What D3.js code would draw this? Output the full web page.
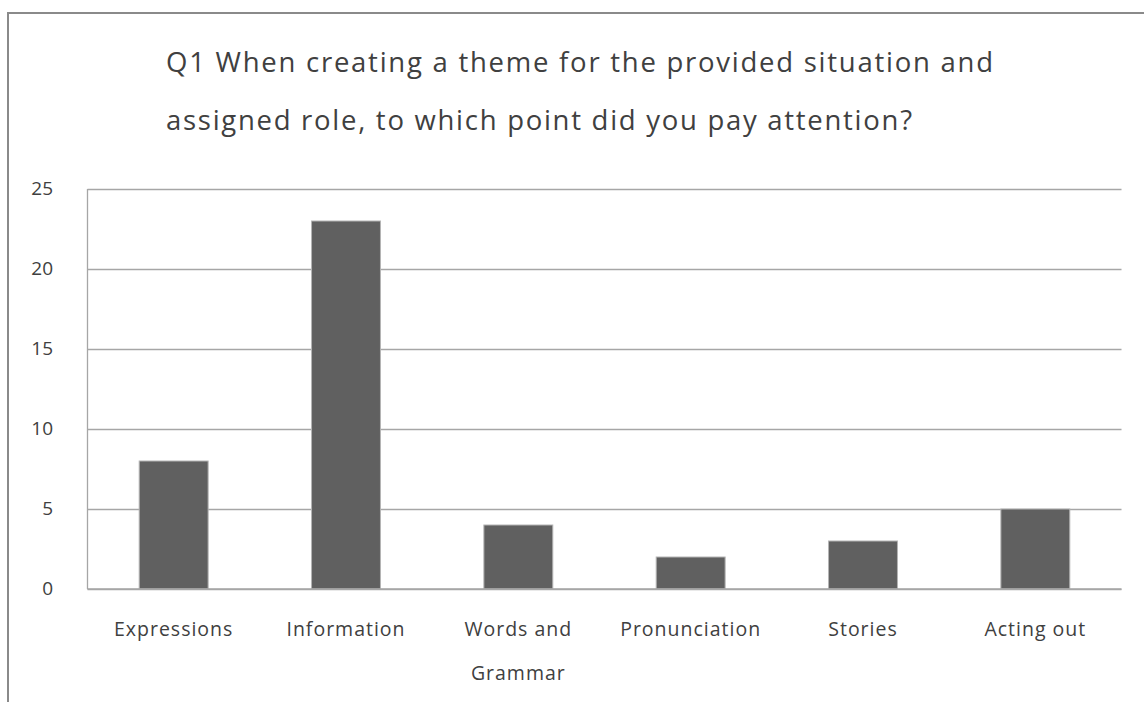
<!DOCTYPE html>
<html>
<head>
<meta charset="utf-8">
<script src="https://cdn.jsdelivr.net/npm/d3@7/dist/d3.min.js"></script>
<style>
  html, body { margin: 0; padding: 0; background: #fff; }
  svg { display: block; }
  text { font-family: "Open Sans", "Noto Sans", sans-serif; fill: #404040; }
</style>
</head>
<body>
<svg id="chart" width="1144" height="702"></svg>
<script>
// Survey answers for Q1
const categories = ["Expressions", "Information", "Words and\nGrammar", "Pronunciation", "Stories", "Acting out"];
const counts = [8, 23, 4, 2, 3, 5];
const yTicks = [0, 5, 10, 15, 20, 25];
const titleLines = [
  "Q1 When creating a theme for the provided situation and",
  "assigned role, to which point did you pay attention?"
];

const svg = d3.select("#chart");
const W = 1144, H = 702;
const plot = { left: 87.5, right: 1121.5, top: 189, bottom: 589 };

// outer frame (top and left edges visible)
svg.append("rect")
  .attr("x", 8).attr("y", 13)
  .attr("width", W + 20).attr("height", H + 20)
  .attr("fill", "none").attr("stroke", "#8a8a8a").attr("stroke-width", 2);

// title, two left-aligned lines
const titleWidths = [827, 746];
titleLines.forEach((t, i) => {
  svg.append("text")
    .attr("x", 166).attr("y", 71.5 + i * 58.5)
    .attr("font-size", 27.5)
    .attr("textLength", titleWidths[i])
    .attr("lengthAdjust", "spacing")
    .text(t);
});

const x = d3.scaleBand()
  .domain(categories)
  .range([plot.left, plot.right])
  .paddingInner(0.6)
  .paddingOuter(0.3);

const y = d3.scaleLinear()
  .domain([0, 25])
  .range([plot.bottom, plot.top]);

// horizontal gridlines
svg.append("g")
  .attr("transform", `translate(${plot.left},0)`)
  .call(d3.axisLeft(y).tickValues(yTicks).tickSize(-(plot.right - plot.left)).tickFormat(""))
  .call(g => g.select(".domain").remove())
  .call(g => g.selectAll("line").attr("stroke", "#a6a6a6").attr("stroke-width", 1.3));

// vertical axis line
svg.append("line")
  .attr("x1", plot.left).attr("x2", plot.left)
  .attr("y1", y(25)).attr("y2", y(0))
  .attr("stroke", "#a6a6a6").attr("stroke-width", 1.3);

// y tick labels
svg.append("g")
  .selectAll("text")
  .data(yTicks)
  .join("text")
  .attr("x", 53)
  .attr("y", d => y(d))
  .attr("dy", "0.3em")
  .attr("text-anchor", "end")
  .attr("font-family", "'Liberation Sans', Arial, sans-serif")
  .attr("font-size", 19)
  .text(d => d);

// bars
svg.append("g")
  .selectAll("rect")
  .data(categories)
  .join("rect")
  .attr("x", d => x(d))
  .attr("width", x.bandwidth())
  .attr("y", (d, i) => y(counts[i]))
  .attr("height", (d, i) => y(0) - y(counts[i]))
  .attr("fill", "#606060")
  .attr("stroke", "#b4b4b4")
  .attr("stroke-width", 1);

// redraw baseline over bar bottoms
svg.append("line")
  .attr("x1", plot.left).attr("x2", plot.right)
  .attr("y1", y(0)).attr("y2", y(0))
  .attr("stroke", "#a6a6a6").attr("stroke-width", 1.3);

// category labels, wrapped on newline
const labels = svg.append("g");
categories.forEach(c => {
  const cx = x(c) + x.bandwidth() / 2;
  const t = labels.append("text")
    .attr("x", cx).attr("y", 636)
    .attr("text-anchor", "middle")
    .attr("font-size", 19.5)
    .attr("letter-spacing", 1);
  c.split("\n").forEach((line, j) => {
    t.append("tspan").attr("x", cx).attr("y", 636 + j * 44).text(line);
  });
});
</script>
</body>
</html>
